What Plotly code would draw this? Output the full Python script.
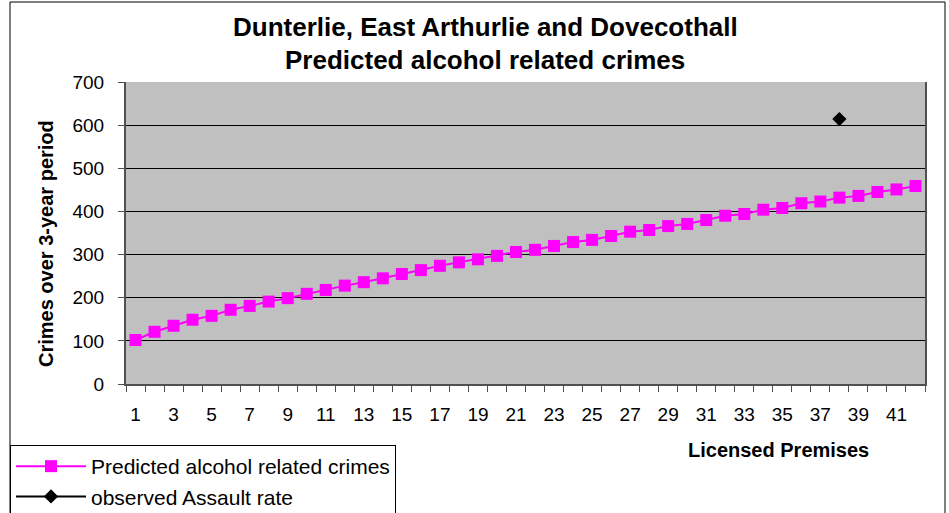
import plotly.graph_objects as go

premises = list(range(1, 43))
predicted = [102, 121, 135, 149, 158, 172, 181, 191, 199, 209, 218, 228, 236, 245, 255,
             264, 274, 282, 289, 297, 306, 311, 320, 329, 334, 343, 353, 357, 366, 371,
             380, 390, 394, 404, 408, 419, 423, 432, 436, 445, 451, 459]
observed_x = [38]
observed_y = [614]
x_ticks = list(range(1, 43, 2))
y_ticks = [0, 100, 200, 300, 400, 500, 600, 700]

FONT = "Liberation Sans, Arial, sans-serif"

fig = go.Figure()
fig.add_trace(go.Scatter(
    x=premises, y=predicted, mode="lines+markers",
    name="Predicted alcohol related crimes",
    line=dict(color="#FF00FF", width=2),
    marker=dict(symbol="square", size=12, color="#FF00FF"),
))
fig.add_trace(go.Scatter(
    x=observed_x, y=observed_y, mode="lines+markers",
    name="observed Assault rate",
    line=dict(color="black", width=2),
    marker=dict(symbol="diamond", size=11, color="black"),
))

L, R, T, B = 126, 24, 82, 129
W, H = 949, 513
pw, ph = W - L - R, H - T - B

def px2x(p):
    return (p - L) / pw

def py2y(p):
    return (H - B - p) / ph

def label(text, x, y, size, angle=0):
    return dict(text=text, x=px2x(x), y=py2y(y), xref="paper", yref="paper",
                xanchor="center", yanchor="middle", showarrow=False, textangle=angle,
                font=dict(size=size, family=FONT, color="black"))

fig.update_layout(
    width=W, height=H,
    margin=dict(l=L, r=R, t=T, b=B, autoexpand=False),
    paper_bgcolor="white",
    plot_bgcolor="#C0C0C0",
    font=dict(family=FONT, color="black", size=19),
    showlegend=True,
    legend=dict(
        x=px2x(10), y=py2y(445), xanchor="left", yanchor="top",
        bordercolor="black", borderwidth=1, bgcolor="white",
        font=dict(size=21, family=FONT), itemwidth=70,
        tracegroupgap=0,
    ),
    xaxis=dict(
        range=[0.5, 42.5], tickmode="array", tickvals=x_ticks,
        ticktext=[str(v) for v in x_ticks],
        ticks="", showgrid=False, zeroline=False, automargin=False,
        showline=True, linecolor="#505050", linewidth=2,
        tickfont=dict(size=19, family=FONT), ticklabelstandoff=12,
        minor=dict(tickmode="linear", tick0=0.5, dtick=1, ticks="outside",
                   ticklen=6, tickcolor="#505050", tickwidth=1, showgrid=False),
        fixedrange=True,
    ),
    yaxis=dict(
        range=[0, 700], tickvals=y_ticks, ticks="outside", ticklen=6,
        tickcolor="#505050", showgrid=True, gridcolor="black", gridwidth=1,
        zeroline=False, showline=True, linecolor="#505050", linewidth=2,
        mirror=True, automargin=False,
        tickfont=dict(size=19, family=FONT), ticklabelstandoff=10,
        fixedrange=True,
    ),
    annotations=[
        label("<b>Dunterlie, East Arthurlie and Dovecothall</b>", 485, 27, 26),
        label("<b>Predicted alcohol related crimes</b>", 485, 60, 26),
        label("<b>Licensed Premises</b>", 778, 450, 20),
        label("<b>Crimes over 3-year period</b>", 46, 244, 20, -90),
    ],
    shapes=[
        dict(type="rect", xref="paper", yref="paper",
             x0=px2x(10), x1=px2x(945), y0=py2y(520), y1=py2y(2),
             line=dict(color="black", width=1), layer="below"),
    ],
)

fig.write_html("out.html", config={"displayModeBar": False},
               post_script="document.body.style.margin='0';document.body.style.overflow='hidden';")
